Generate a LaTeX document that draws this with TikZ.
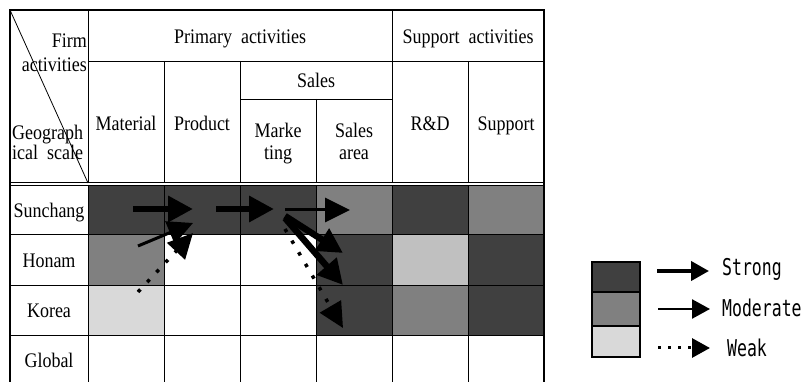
\documentclass[tikz,border=0pt]{standalone}
\usepackage{fontspec}
\setmainfont{Liberation Serif}
\newfontfamily\legendfont{DejaVu Sans Mono}
\usetikzlibrary{arrows.meta}

\definecolor{strongc}{HTML}{404040}
\definecolor{modc}{HTML}{808080}
\definecolor{weakc}{HTML}{D9D9D9}
\definecolor{rdc}{HTML}{C0C0C0}

\begin{document}
\begin{tikzpicture}[x=1pt, y=-1pt,
    gridline/.style={line width=0.8pt},
    txt/.style={font=\fontsize{18}{20}\selectfont, inner sep=0pt, anchor=base, yscale=1.15},
    strongarrow/.style={line width=6.5pt, -{Triangle[length=25pt,width=25pt]}},
    modarrow/.style={line width=3pt, -{Triangle[length=25pt,width=24pt]}},
    weakarrow/.style={line width=3.5pt, dash pattern=on 3.5pt off 10pt, -{Triangle[length=25pt,width=24pt]}},
    legbox/.style={draw, line width=1.2pt},
    legtext/.style={font=\legendfont\fontsize{22}{24}\selectfont, xscale=0.75, yscale=1.05, inner sep=0pt, anchor=base west}
]
    \useasboundingbox (0,0) rectangle (807,382);

    % Cell shading: Sunchang
    \fill[strongc] (88,186) rectangle (316,234);
    \fill[modc] (316,186) rectangle (392,234);
    \fill[strongc] (392,186) rectangle (468,234);
    \fill[modc] (468,186) rectangle (544,234);

    % Honam
    \fill[modc] (88,234) rectangle (164,285);
    \fill[strongc] (316,234) rectangle (392,285);
    \fill[rdc] (392,234) rectangle (468,285);
    \fill[strongc] (468,234) rectangle (544,285);

    % Korea
    \fill[weakc] (88,285) rectangle (164,335);
    \fill[strongc] (316,285) rectangle (392,335);
    \fill[modc] (392,285) rectangle (468,335);
    \fill[strongc] (468,285) rectangle (544,335);

    % Grid lines of the body
    \foreach \y in {234,285,335} {
        \draw[gridline] (10,\y) -- (544,\y);
    }
    \foreach \x in {88,164,240,316,392,468} {
        \draw[gridline] (\x,186) -- (\x,382);
    }

    % Header lines
    \draw[gridline] (88,10) -- (88,183);
    \draw[gridline] (88,61) -- (544,61);
    \draw[gridline] (240,99) -- (392,99);
    \draw[gridline] (164,61) -- (164,183);
    \draw[gridline] (240,61) -- (240,183);
    \draw[gridline] (316,99) -- (316,183);
    \draw[gridline] (392,10) -- (392,183);
    \draw[gridline] (468,61) -- (468,183);
    \draw[gridline] (10,10) -- (88,183);

    % Double rule under the header
    \draw[line width=1pt] (10,183) -- (544,183);
    \draw[line width=1pt] (10,186) -- (544,186);

    % Outer frame
    \draw[line width=2pt] (10,382) -- (10,10) -- (544,10) -- (544,382);

    % Corner labels
    \node[txt, anchor=base east] (firm) at (87,48) {Firm};
    \node[txt, anchor=base east] (acts) at (87,72) {activities};
    \node[txt, anchor=base west] (geo1) at (12,140) {Geograph};
    \node[txt, anchor=base west] (geo2) at (12,160) {ical\ \ scale};

    % Column headers
    \node[txt] (primary) at (240,44) {Primary\ \ activities};
    \node[txt] (support) at (468,44) {Support\ \ activities};
    \node[txt] (sales) at (316,88) {Sales};
    \node[txt] (material) at (126,131) {Material};
    \node[txt] (product) at (202,131) {Product};
    \node[txt] (mark1) at (278,138) {Marke};
    \node[txt] (mark2) at (278,160) {ting};
    \node[txt] (area1) at (354,138) {Sales};
    \node[txt] (area2) at (354,160) {area};
    \node[txt] (rd) at (430,131) {R\&D};
    \node[txt] (supp) at (506,131) {Support};

    % Row labels
    \node[txt] (sunchang) at (49,218) {Sunchang};
    \node[txt] (honam) at (49,268) {Honam};
    \node[txt] (korea) at (49,318) {Korea};
    \node[txt] (global) at (49,368) {Global};

    % Arrow ends
    \coordinate (s1a) at (133,209);
    \coordinate (s1b) at (193,209);
    \coordinate (m1a) at (138,246);
    \coordinate (m1b) at (193,223);
    \coordinate (w1a) at (138,292);
    \coordinate (w1b) at (193,233);
    \coordinate (s2a) at (216,209);
    \coordinate (s2b) at (274,209);
    \coordinate (m2a) at (285,210);
    \coordinate (m2b) at (350,210);
    \coordinate (s3a) at (285,216);
    \coordinate (s3b) at (343,253);
    \coordinate (s4a) at (285,218);
    \coordinate (s4b) at (343,285);
    \coordinate (w2a) at (285,229);
    \coordinate (w2b) at (343,328);

    % Linkage arrows
    \draw[strongarrow] (s1a) -- (s1b);
    \draw[modarrow] (m1a) -- (m1b);
    \draw[weakarrow] (w1a) -- (w1b);
    \draw[strongarrow] (s2a) -- (s2b);
    \draw[modarrow] (m2a) -- (m2b);
    \draw[strongarrow] (s3a) -- (s3b);
    \draw[strongarrow] (s4a) -- (s4b);
    \draw[weakarrow] (w2a) -- (w2b);

    % Legend
    \draw[legbox, fill=strongc] (592,262) rectangle (640,292);
    \draw[legbox, fill=modc] (592,292) rectangle (640,326);
    \draw[legbox, fill=weakc] (592,326) rectangle (640,357);

    \coordinate (ls1) at (657,271);
    \coordinate (ls2) at (709,271);
    \coordinate (lm1) at (658,309);
    \coordinate (lm2) at (710,309);
    \coordinate (lw1) at (658,348);
    \coordinate (lw2) at (710,348);
    \draw[line width=4pt, -{Triangle[length=18pt,width=19pt]}] (ls1) -- (ls2);
    \draw[line width=2.5pt, -{Triangle[length=18pt,width=19pt]}] (lm1) -- (lm2);
    \draw[line width=3pt, dash pattern=on 3pt off 7pt, -{Triangle[length=18pt,width=19pt]}] (lw1) -- (lw2);

    \node[legtext] (lstrong) at (722,276) {Strong};
    \node[legtext] (lmod) at (722,317) {Moderate};
    \node[legtext] (lweak) at (727,357) {Weak};

\end{tikzpicture}
\end{document}
